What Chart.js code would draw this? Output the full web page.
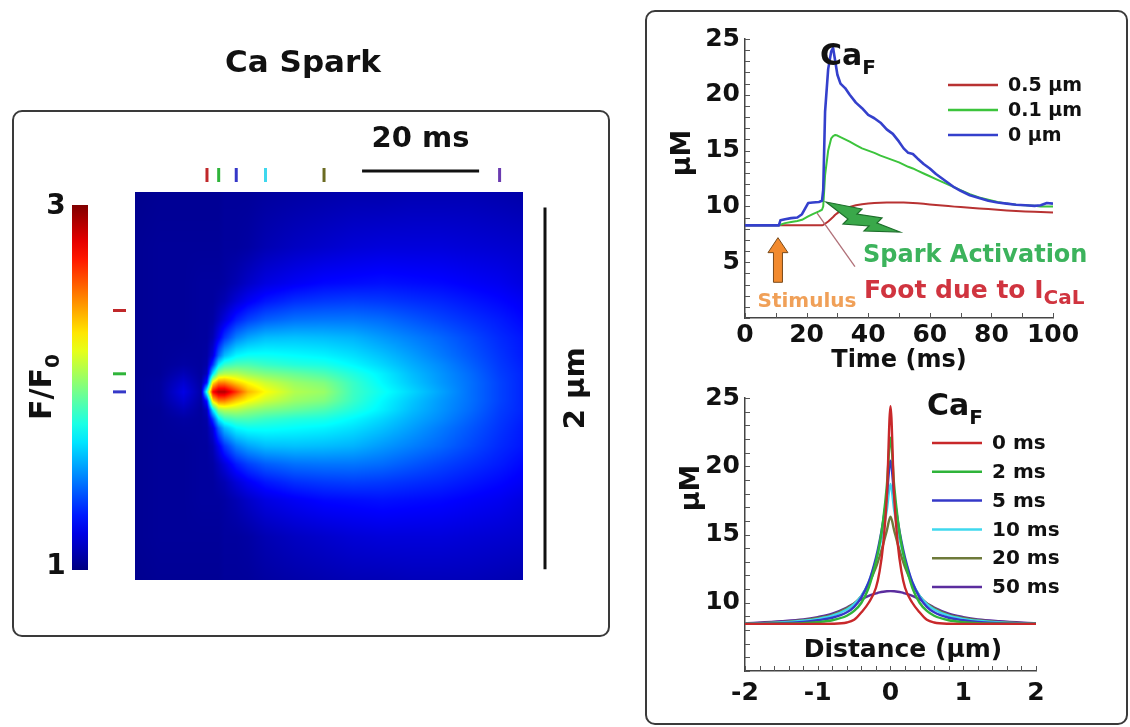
<!DOCTYPE html>
<html>
<head>
<meta charset="utf-8">
<title>Ca Spark</title>
<script src="https://cdn.jsdelivr.net/npm/chart.js@4.4.1/dist/chart.umd.min.js"></script>
<style>
  body { margin: 0; background: #fff; width: 1130px; height: 727px; overflow: hidden; position: relative; }
  .box { position: absolute; border: 2px solid #3a3a3a; border-radius: 10px; }
  canvas { position: absolute; }
</style>
</head>
<body>
<div class="box" style="left:12px;top:110px;width:594px;height:523px"></div>
<div class="box" style="left:645px;top:10px;width:479px;height:711px"></div>
<canvas id="spark" width="640" height="727" style="left:0;top:0"></canvas>
<canvas id="trace" width="470" height="360" style="left:650px;top:15px"></canvas>
<canvas id="profile" width="470" height="347" style="left:650px;top:378px"></canvas>
<script>
/*--------------------DATA--------------------*/
// time course of Ca_F (µM) at three distances from the release site
const timeMs = [0, 11, 11.5, 13, 15, 17, 18.5, 19.5, 20.5, 22, 24, 25, 25.4, 26, 27, 28, 28.6, 29.3, 30, 31,
  32.5, 34, 36, 38, 40, 42, 44, 46, 48, 50, 51.5, 53, 54.5, 56, 58, 60, 62, 64, 66, 68,
  70, 73, 76, 79, 82, 85, 88, 91, 94, 96, 98, 100];
const ca05um = [8.3, 8.3, 8.3, 8.3, 8.3, 8.3, 8.3, 8.3, 8.3, 8.3, 8.3, 8.3, 8.35, 8.45, 8.65, 8.9, 9.05, 9.25, 9.4, 9.6,
  9.8, 9.95, 10.1, 10.2, 10.25, 10.3, 10.33, 10.35, 10.35, 10.35, 10.34, 10.32, 10.3, 10.28, 10.23, 10.18, 10.13, 10.08, 10.03, 9.98,
  9.94, 9.88, 9.82, 9.76, 9.7, 9.64, 9.59, 9.55, 9.51, 9.49, 9.47, 9.45];
const ca01um = [8.3, 8.3, 8.35, 8.5, 8.6, 8.7, 8.8, 8.95, 9.1, 9.3, 9.55, 9.7, 10.0, 12.8, 15.0, 16.1, 16.3, 16.4, 16.35, 16.2,
  16.0, 15.8, 15.5, 15.2, 15.0, 14.8, 14.55, 14.35, 14.15, 13.95, 13.75, 13.55, 13.4, 13.2, 12.95, 12.7, 12.45, 12.2, 11.95, 11.7,
  11.45, 11.1, 10.8, 10.6, 10.4, 10.25, 10.15, 10.1, 10.05, 10.0, 10.0, 10.0];
const ca0um = [8.3, 8.3, 8.75, 8.85, 8.95, 9.0, 9.3, 9.8, 10.3, 10.35, 10.4, 10.5, 11.5, 18.5, 22.3, 23.9, 24.2, 23.0, 21.8, 21.0,
  20.6, 20.0, 19.3, 18.8, 18.2, 17.9, 17.5, 16.9, 16.5, 15.8, 15.2, 14.8, 14.7, 14.3, 13.8, 13.4, 12.9, 12.5, 12.1, 11.7,
  11.4, 11.0, 10.75, 10.5, 10.35, 10.25, 10.15, 10.1, 10.05, 10.1, 10.3, 10.25];
const stimulusMs = 10.7;

// spatial profiles of Ca_F (µM) at several times after spark onset
const distUm = [-2, -1.5, -1.2, -1, -0.8, -0.6, -0.5, -0.4, -0.3, -0.2, -0.15, -0.1, -0.05, 0,
  0.05, 0.1, 0.15, 0.2, 0.3, 0.4, 0.5, 0.6, 0.8, 1, 1.2, 1.5, 2];
const prof0ms = [8.45, 8.45, 8.45, 8.45, 8.46, 8.55, 8.75, 9.3, 10.0, 11.1, 12.3, 14.3, 17.8, 24.4,
  17.8, 14.3, 12.3, 11.1, 10.0, 9.3, 8.75, 8.55, 8.46, 8.45, 8.45, 8.45, 8.45];
const prof2ms = [8.45, 8.46, 8.5, 8.58, 8.72, 9.05, 9.4, 10.0, 11.1, 13.0, 14.3, 16.1, 18.6, 22.1,
  18.6, 16.1, 14.3, 13.0, 11.1, 10.0, 9.4, 9.05, 8.72, 8.58, 8.5, 8.46, 8.45];
const prof5ms = [8.45, 8.5, 8.6, 8.72, 8.9, 9.3, 9.7, 10.4, 11.5, 13.3, 14.5, 16.0, 17.9, 20.4,
  17.9, 16.0, 14.5, 13.3, 11.5, 10.4, 9.7, 9.3, 8.9, 8.72, 8.6, 8.5, 8.45];
const prof10ms = [8.46, 8.55, 8.68, 8.82, 9.05, 9.5, 9.9, 10.5, 11.5, 13.1, 14.1, 15.3, 16.8, 18.7,
  16.8, 15.3, 14.1, 13.1, 11.5, 10.5, 9.9, 9.5, 9.05, 8.82, 8.68, 8.55, 8.46];
const prof20ms = [8.47, 8.58, 8.72, 8.88, 9.12, 9.6, 9.95, 10.5, 11.4, 12.6, 13.4, 14.3, 15.3, 16.3,
  15.3, 14.3, 13.4, 12.6, 11.4, 10.5, 9.95, 9.6, 9.12, 8.88, 8.72, 8.58, 8.47];
const prof50ms = [8.5, 8.65, 8.78, 8.95, 9.2, 9.65, 9.95, 10.25, 10.5, 10.68, 10.76, 10.81, 10.84, 10.85,
  10.84, 10.81, 10.76, 10.68, 10.5, 10.25, 9.95, 9.65, 9.2, 8.95, 8.78, 8.65, 8.5];

// line-scan image F/F0: rows = |distance| (µm), columns = time (ms)
const heatTimes = [-12.3, -8, -4, -1, 0, 1, 2, 3, 5, 7, 10, 15, 20, 25, 30, 35, 40, 45, 50, 54];
const heatDist = [0, 0.05, 0.1, 0.15, 0.2, 0.3, 0.4, 0.5, 0.6, 0.8, 1.1];
const heatRows = [
  [1.04, 1.06, 1.2, 1.08, 1.85, 2.75, 2.9, 2.9, 2.65, 2.4, 2.25, 2.1, 2.05, 1.87, 1.77, 1.67, 1.57, 1.47, 1.38, 1.32],
  [1.04, 1.06, 1.16, 1.07, 1.3, 2.3, 2.5, 2.5, 2.35, 2.25, 2.15, 2.05, 2.0, 1.86, 1.74, 1.64, 1.55, 1.47, 1.38, 1.32],
  [1.04, 1.05, 1.11, 1.06, 1.12, 1.7, 2.05, 2.1, 2.1, 2.05, 2.0, 1.95, 1.9, 1.81, 1.72, 1.62, 1.54, 1.46, 1.37, 1.32],
  [1.04, 1.05, 1.07, 1.06, 1.08, 1.35, 1.72, 1.85, 1.9, 1.9, 1.86, 1.82, 1.8, 1.74, 1.67, 1.59, 1.52, 1.44, 1.36, 1.31],
  [1.04, 1.05, 1.06, 1.06, 1.07, 1.18, 1.45, 1.62, 1.74, 1.77, 1.77, 1.75, 1.73, 1.69, 1.63, 1.56, 1.49, 1.42, 1.35, 1.3],
  [1.04, 1.05, 1.05, 1.06, 1.06, 1.1, 1.22, 1.35, 1.5, 1.57, 1.62, 1.63, 1.62, 1.6, 1.55, 1.5, 1.45, 1.39, 1.33, 1.29],
  [1.04, 1.05, 1.05, 1.06, 1.06, 1.07, 1.12, 1.18, 1.3, 1.37, 1.43, 1.47, 1.48, 1.48, 1.46, 1.42, 1.38, 1.34, 1.3, 1.26],
  [1.04, 1.05, 1.05, 1.06, 1.06, 1.06, 1.08, 1.1, 1.17, 1.23, 1.29, 1.34, 1.36, 1.37, 1.36, 1.34, 1.32, 1.29, 1.26, 1.23],
  [1.04, 1.05, 1.05, 1.06, 1.06, 1.06, 1.06, 1.07, 1.1, 1.14, 1.19, 1.23, 1.26, 1.27, 1.28, 1.27, 1.26, 1.24, 1.22, 1.19],
  [1.04, 1.05, 1.05, 1.05, 1.05, 1.05, 1.05, 1.06, 1.06, 1.07, 1.1, 1.13, 1.15, 1.17, 1.18, 1.18, 1.18, 1.17, 1.16, 1.15],
  [1.03, 1.04, 1.04, 1.04, 1.04, 1.04, 1.04, 1.05, 1.05, 1.05, 1.06, 1.07, 1.08, 1.09, 1.09, 1.1, 1.1, 1.1, 1.09, 1.08]
];
const scanTimeMarks = [0, 2, 5, 10, 20, 50];
const scanDistMarks = [0.45, 0.1, 0];
const markColors = ['#c0282a', '#2fb43a', '#3538c8', '#3fd8ee', '#6b6b22', '#6a3bb0'];

/*--------------------HELPERS--------------------*/
const FONT = '"DejaVu Sans", sans-serif';
Chart.defaults.font.family = FONT;
Chart.defaults.color = '#111';

function font(size) { return `bold ${size}px ${FONT}`; }

function jet(v) {
  const f = Math.min(1, Math.max(0, (v - 1) / 2));
  const c = k => Math.round(255 * Math.min(1, Math.max(0, 1.5 - Math.abs(4 * f - k))));
  return [c(3), c(2), c(1)];
}

function locate(arr, v) {
  const n = arr.length;
  if (v <= arr[0]) return [0, 0];
  if (v >= arr[n - 1]) return [n - 2, 1];
  let i = 0;
  while (arr[i + 1] < v) i++;
  return [i, (v - arr[i]) / (arr[i + 1] - arr[i])];
}

// text with a subscript, x is the left edge (or centre)
function subText(ctx, x, y, main, sub, size, subSize, drop, color, center) {
  ctx.font = font(size);
  const w1 = ctx.measureText(main).width;
  ctx.font = font(subSize);
  const w2 = ctx.measureText(sub).width;
  const x0 = center ? x - (w1 + w2) / 2 : x;
  ctx.fillStyle = color;
  ctx.textAlign = 'left';
  ctx.textBaseline = 'alphabetic';
  ctx.font = font(size);
  ctx.fillText(main, x0, y);
  ctx.font = font(subSize);
  ctx.fillText(sub, x0 + w1, y + drop);
}

function plainText(ctx, x, y, str, size, color, align) {
  ctx.font = font(size);
  ctx.fillStyle = color;
  ctx.textAlign = align || 'left';
  ctx.textBaseline = 'alphabetic';
  ctx.fillText(str, x, y);
}

function minorTicks(xStep, yStep, len) {
  return {
    id: 'minorTicks',
    afterDraw(chart) {
      const { ctx, chartArea: a, scales: { x, y } } = chart;
      ctx.save();
      ctx.strokeStyle = '#555';
      ctx.lineWidth = 1;
      ctx.beginPath();
      for (let v = x.min; v <= x.max + 1e-9; v += xStep) {
        const px = Math.round(x.getPixelForValue(v)) + 0.5;
        ctx.moveTo(px, a.bottom);
        ctx.lineTo(px, a.bottom - len);
      }
      for (let v = y.min; v <= y.max + 1e-9; v += yStep) {
        const py = Math.round(y.getPixelForValue(v)) + 0.5;
        ctx.moveTo(a.left, py);
        ctx.lineTo(a.left + len, py);
      }
      ctx.stroke();
      ctx.restore();
    }
  };
}

function legendRows(ctx, x, y0, dy, labels, colors, size) {
  labels.forEach((lab, i) => {
    const y = y0 + i * dy;
    ctx.strokeStyle = colors[i];
    ctx.lineWidth = 2.5;
    ctx.beginPath();
    ctx.moveTo(x, y);
    ctx.lineTo(x + 50, y);
    ctx.stroke();
    ctx.font = font(size);
    ctx.fillStyle = '#111';
    ctx.textAlign = 'left';
    ctx.textBaseline = 'middle';
    ctx.fillText(lab, x + 60, y + 1);
  });
}

/*--------------------LINE-SCAN IMAGE--------------------*/
const sparkDecor = {
  id: 'sparkDecor',
  afterDraw(chart) {
    const { ctx, chartArea: a, scales: { x, y } } = chart;
    // heat map
    const w = Math.round(a.right - a.left), h = Math.round(a.bottom - a.top);
    const off = document.createElement('canvas');
    off.width = w; off.height = h;
    const octx = off.getContext('2d');
    const img = octx.createImageData(w, h);
    const cols = [];
    for (let i = 0; i < w; i++) cols.push(locate(heatTimes, x.getValueForPixel(a.left + i + 0.5)));
    for (let j = 0; j < h; j++) {
      const [di, df] = locate(heatDist, Math.abs(y.getValueForPixel(a.top + j + 0.5)));
      const r0 = heatRows[di], r1 = heatRows[di + 1];
      for (let i = 0; i < w; i++) {
        const [ti, tf] = cols[i];
        const v0 = r0[ti] * (1 - tf) + r0[ti + 1] * tf;
        const v1 = r1[ti] * (1 - tf) + r1[ti + 1] * tf;
        const c = jet(v0 * (1 - df) + v1 * df);
        const k = (j * w + i) * 4;
        img.data[k] = c[0]; img.data[k + 1] = c[1]; img.data[k + 2] = c[2]; img.data[k + 3] = 255;
      }
    }
    octx.putImageData(img, 0, 0);
    ctx.drawImage(off, a.left, a.top);

    ctx.save();
    // title
    plainText(ctx, 303, 72, 'Ca Spark', 31, '#111', 'center');

    // colour bar
    const cbTop = 205, cbBot = 570;
    const grad = ctx.createLinearGradient(0, cbBot, 0, cbTop);
    for (let s = 0; s <= 20; s++) {
      const c = jet(1 + s / 10);
      grad.addColorStop(s / 20, `rgb(${c[0]},${c[1]},${c[2]})`);
    }
    ctx.fillStyle = grad;
    ctx.fillRect(72, cbTop, 16, cbBot - cbTop);
    ctx.font = font(28);
    ctx.fillStyle = '#111';
    ctx.textAlign = 'center';
    ctx.textBaseline = 'middle';
    ctx.fillText('3', 56, cbTop + 2);
    ctx.fillText('1', 56, cbBot - 3);
    ctx.save();
    ctx.translate(51, 387);
    ctx.rotate(-Math.PI / 2);
    subText(ctx, 0, 0, 'F/F', '0', 30, 20, 8, '#111', true);
    ctx.restore();

    // time scale bar
    const t0 = x.getPixelForValue(26.5), t1 = x.getPixelForValue(46.5);
    ctx.strokeStyle = '#111';
    ctx.lineWidth = 3;
    ctx.beginPath(); ctx.moveTo(t0, 171); ctx.lineTo(t1, 171); ctx.stroke();
    plainText(ctx, (t0 + t1) / 2, 147, '20 ms', 29, '#111', 'center');

    // distance scale bar
    const d0 = y.getPixelForValue(1.02), d1 = y.getPixelForValue(-0.98);
    ctx.beginPath(); ctx.moveTo(545, d0); ctx.lineTo(545, d1); ctx.stroke();
    ctx.save();
    ctx.translate(584, (d0 + d1) / 2);
    ctx.rotate(-Math.PI / 2);
    plainText(ctx, 0, 0, '2 μm', 29, '#111', 'center');
    ctx.restore();

    // markers for the traces on the right
    ctx.lineWidth = 3;
    scanTimeMarks.forEach((t, i) => {
      const px = x.getPixelForValue(t);
      ctx.strokeStyle = markColors[i];
      ctx.beginPath(); ctx.moveTo(px, 168); ctx.lineTo(px, 182); ctx.stroke();
    });
    scanDistMarks.forEach((d, i) => {
      const py = y.getPixelForValue(d);
      ctx.strokeStyle = markColors[i];
      ctx.beginPath(); ctx.moveTo(113, py); ctx.lineTo(126, py); ctx.stroke();
    });
    ctx.restore();
  }
};

new Chart(document.getElementById('spark'), {
  type: 'scatter',
  data: { datasets: [] },
  options: {
    responsive: false,
    animation: false,
    layout: { padding: { left: 135, right: 117, top: 192, bottom: 147 } },
    scales: {
      x: { type: 'linear', min: -12.3, max: 54, display: false },
      y: { type: 'linear', min: -1.04, max: 1.105, display: false }
    },
    plugins: { legend: { display: false }, tooltip: { enabled: false } }
  },
  plugins: [sparkDecor]
});

/*--------------------TIME COURSE--------------------*/
const traceColors = ['#b83232', '#3cc43c', '#3440cc'];

const traceDecor = {
  id: 'traceDecor',
  afterDraw(chart) {
    const { ctx, scales: { x, y } } = chart;
    ctx.save();
    subText(ctx, 170, 50, 'Ca', 'F', 30, 20, 9, '#111', false);
    legendRows(ctx, 298, 70, 25, ['0.5 μm', '0.1 μm', '0 μm'], traceColors, 19);

    ctx.save();
    ctx.translate(40, 138);
    ctx.rotate(-Math.PI / 2);
    plainText(ctx, 0, 0, 'μM', 27, '#111', 'center');
    ctx.restore();

    // stimulus arrow
    const ax = x.getPixelForValue(stimulusMs);
    const tip = y.getPixelForValue(7.2), base = y.getPixelForValue(3.2);
    ctx.beginPath();
    ctx.moveTo(ax, tip);
    ctx.lineTo(ax + 10, tip + 15);
    ctx.lineTo(ax + 4.5, tip + 15);
    ctx.lineTo(ax + 4.5, base);
    ctx.lineTo(ax - 4.5, base);
    ctx.lineTo(ax - 4.5, tip + 15);
    ctx.lineTo(ax - 10, tip + 15);
    ctx.closePath();
    ctx.fillStyle = '#f28a2e';
    ctx.fill();
    ctx.strokeStyle = '#7a4a1a';
    ctx.lineWidth = 1;
    ctx.stroke();
    plainText(ctx, 157, 292, 'Stimulus', 20, '#f0a058', 'center');

    // pointer line to the foot
    ctx.strokeStyle = '#b07078';
    ctx.lineWidth = 1.3;
    ctx.beginPath();
    ctx.moveTo(x.getPixelForValue(23.4), y.getPixelForValue(9.4));
    ctx.lineTo(x.getPixelForValue(35.7), y.getPixelForValue(4.6));
    ctx.stroke();

    // lightning bolt
    const bolt = [[176, 187], [212, 194], [207, 199], [232, 203], [227, 208], [250, 217],
      [214, 216], [219, 211], [193, 209], [198, 204]];
    ctx.beginPath();
    bolt.forEach((p, i) => (i ? ctx.lineTo(p[0], p[1]) : ctx.moveTo(p[0], p[1])));
    ctx.closePath();
    ctx.fillStyle = '#3aa84a';
    ctx.fill();
    ctx.strokeStyle = '#1d6e2a';
    ctx.lineWidth = 1.2;
    ctx.stroke();

    plainText(ctx, 213, 247, 'Spark Activation', 24, '#3cb35c');
    subText(ctx, 214, 283, 'Foot due to I', 'CaL', 25, 20, 6, '#d0343f', false);
    ctx.restore();
  }
};

new Chart(document.getElementById('trace'), {
  type: 'line',
  data: {
    datasets: [
      { label: '0.5 μm', data: timeMs.map((t, i) => ({ x: t, y: ca05um[i] })), borderColor: traceColors[0], borderWidth: 2, order: 2 },
      { label: '0.1 μm', data: timeMs.map((t, i) => ({ x: t, y: ca01um[i] })), borderColor: traceColors[1], borderWidth: 2, order: 1 },
      { label: '0 μm', data: timeMs.map((t, i) => ({ x: t, y: ca0um[i] })), borderColor: traceColors[2], borderWidth: 2.6, order: 0 }
    ]
  },
  options: {
    responsive: false,
    animation: false,
    layout: { padding: { left: 45, right: 67, top: 24, bottom: 0 } },
    elements: { point: { radius: 0 }, line: { tension: 0, borderJoinStyle: 'round' } },
    scales: {
      x: {
        type: 'linear', min: 0, max: 100,
        afterFit: s => { s.height = 57; },
        ticks: { stepSize: 20, font: { size: 25, weight: 'bold' }, color: '#111', padding: 2, maxRotation: 0 },
        grid: { drawOnChartArea: false, drawTicks: false },
        border: { color: '#444', width: 1.5 },
        title: { display: true, text: 'Time (ms)', font: { size: 24, weight: 'bold' }, color: '#111', padding: { top: 0, bottom: 0 } }
      },
      y: {
        min: 0, max: 25,
        afterFit: s => { s.width = 50; },
        ticks: { stepSize: 5, callback: v => (v === 0 ? '' : v), font: { size: 25, weight: 'bold' }, color: '#111', padding: 5 },
        grid: { drawOnChartArea: false, drawTicks: false },
        border: { color: '#444', width: 1.5 }
      }
    },
    plugins: { legend: { display: false }, tooltip: { enabled: false } }
  },
  plugins: [minorTicks(10, 1, 5), traceDecor]
});

/*--------------------SPATIAL PROFILES--------------------*/
const profLabels = ['0 ms', '2 ms', '5 ms', '10 ms', '20 ms', '50 ms'];
const profColors = ['#c8282a', '#2fb43a', '#3538c8', '#3fd8ee', '#6e7a3a', '#5b2d9e'];
const profSeries = [prof0ms, prof2ms, prof5ms, prof10ms, prof20ms, prof50ms];

const profileDecor = {
  id: 'profileDecor',
  afterDraw(chart) {
    const { ctx } = chart;
    ctx.save();
    subText(ctx, 277, 37, 'Ca', 'F', 30, 20, 9, '#111', false);
    legendRows(ctx, 282, 65, 28.8, profLabels, profColors, 20);
    plainText(ctx, 253, 279, 'Distance (μm)', 25, '#111', 'center');
    ctx.save();
    ctx.translate(49, 110);
    ctx.rotate(-Math.PI / 2);
    plainText(ctx, 0, 0, 'μM', 27, '#111', 'center');
    ctx.restore();
    ctx.restore();
  }
};

new Chart(document.getElementById('profile'), {
  type: 'line',
  data: {
    datasets: profSeries.map((s, k) => ({
      label: profLabels[k],
      data: distUm.map((d, i) => ({ x: d, y: s[i] })),
      borderColor: profColors[k],
      borderWidth: 2.4,
      cubicInterpolationMode: 'monotone'
    }))
  },
  options: {
    responsive: false,
    animation: false,
    layout: { padding: { left: 45, right: 84, top: 15, bottom: 0 } },
    elements: { point: { radius: 0 }, line: { borderJoinStyle: 'round' } },
    scales: {
      x: {
        type: 'linear', min: -2, max: 2,
        afterFit: s => { s.height = 54; },
        ticks: { stepSize: 1, font: { size: 25, weight: 'bold' }, color: '#111', padding: 7, maxRotation: 0 },
        grid: { drawOnChartArea: false, drawTicks: false },
        border: { color: '#444', width: 1.5 }
      },
      y: {
        min: 5, max: 25,
        afterFit: s => { s.width = 50; },
        ticks: { stepSize: 5, callback: v => (v === 5 ? '' : v), font: { size: 25, weight: 'bold' }, color: '#111', padding: 5 },
        grid: { drawOnChartArea: false, drawTicks: false },
        border: { color: '#444', width: 1.5 }
      }
    },
    plugins: { legend: { display: false }, tooltip: { enabled: false } }
  },
  plugins: [minorTicks(0.2, 1, 5), profileDecor]
});
</script>
</body>
</html>
